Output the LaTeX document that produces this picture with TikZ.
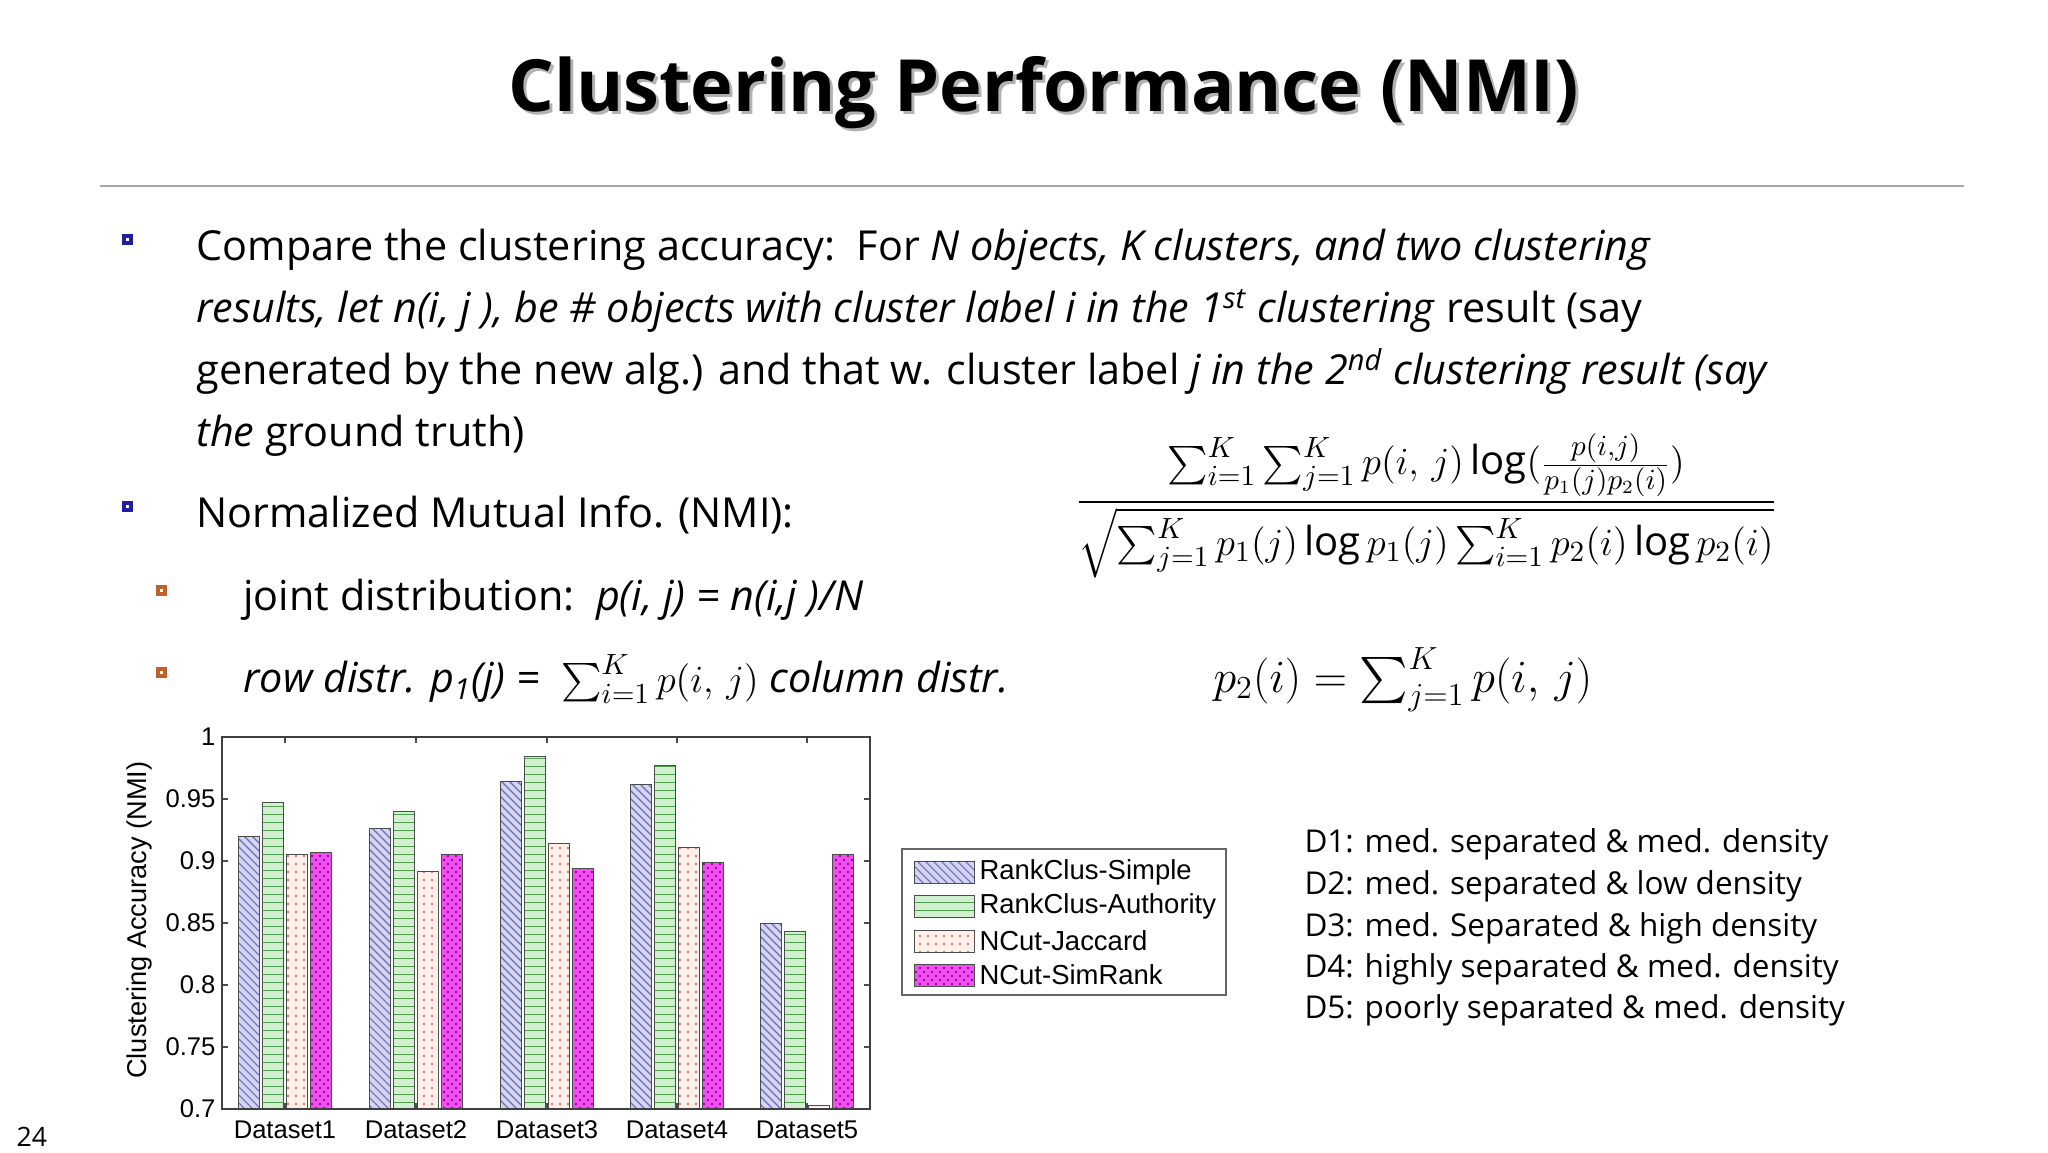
\documentclass[tikz,border=0pt]{standalone}
\usepackage{amsmath}
\usepackage{fontspec}
\setmainfont{Open Sans}
\newfontfamily\arialf{Liberation Sans}
\usetikzlibrary{patterns,calc}
\definecolor{bblue}{HTML}{1F1FA0}
\definecolor{borange}{HTML}{C0602A}
\definecolor{lav}{HTML}{D4D4F4}
\definecolor{lavl}{HTML}{7070B0}
\definecolor{lgreen}{HTML}{D0F0D0}
\definecolor{lgreenl}{HTML}{50A050}
\definecolor{peach}{HTML}{FFF0EA}
\definecolor{peachl}{HTML}{E07070}
\definecolor{mag}{HTML}{F050F0}
\definecolor{magl}{HTML}{A000A0}
\tikzset{
  txt/.style={anchor=base west,inner sep=0pt,font=\fontsize{15.5}{18}\selectfont},
  dtxt/.style={anchor=base west,inner sep=0pt,font=\fontsize{11.8}{14}\selectfont},
  ax/.style={font=\arialf\fontsize{9.6}{11}\selectfont,inner sep=0pt},
  bar/.style={draw=black!70,line width=0.3pt},
}
\newcommand{\bbox}[2]{%
 \fill[black!35] ($(#1)+(1.2,1.2)$) rectangle ++(8,8);
 \draw[#2,line width=1.6pt,fill=white] (#1) rectangle ++(7.2,7.2);}
\begin{document}
\begin{tikzpicture}[x=0.375pt,y=-0.375pt]
\useasboundingbox (0,0) rectangle (2048,1152);
% title
\node[font=\bfseries\fontsize{27}{30}\selectfont,text=black!30] at (1047,96) {Clustering Performance (NMI)};
\node[font=\bfseries\fontsize{27}{30}\selectfont] (title) at (1044,93) {Clustering Performance (NMI)};
\draw[black!35,line width=0.6pt] (100,186) -- (1964,186);
% bullets
\coordinate (b1) at (124,236); \bbox{b1}{bblue}
\coordinate (b2) at (124,503); \bbox{b2}{bblue}
\coordinate (b3) at (158,587); \bbox{b3}{borange}
\coordinate (b4) at (158,669); \bbox{b4}{borange}
\node[txt] (l1) at (196,260) {Compare the clustering accuracy:\ \ For \textit{N objects, K clusters, and two clustering}};
\node[txt] (l2) at (196,322) {\textit{results, let n(i, j ), be \# objects with cluster label i in the 1\textsuperscript{st} clustering} result (say};
\node[txt] (l3) at (196,384) {generated by the new alg.) and that w. cluster label \textit{j in the 2\textsuperscript{nd} clustering result (say}};
\node[txt] (l4) at (196,446) {\textit{the} ground truth)};
\node[txt] (l5) at (196,527) {Normalized Mutual Info. (NMI):};
\node[txt] (l6) at (243,610) {joint distribution:\ \ \textit{p(i, j) = n(i,j )/N}};
\node[txt] (l7) at (243,692) {\textit{row distr. p\textsubscript{1}(j) =}\ \ $\textstyle\sum_{i=1}^K p(i,\,j)$ \textit{column distr.}};
\node[anchor=base west,inner sep=0pt,font=\fontsize{17}{20}\selectfont] (p2) at (1213,692) {$p_2(i)=\sum\nolimits_{j=1}^K p(i,\,j)$};
% NMI
\node[font=\fontsize{15}{18}\selectfont,inner sep=0pt] (nmi) at (1426,506) {$\dfrac{\sum_{i=1}^K\sum_{j=1}^K p(i,\,j)\log(\frac{p(i,j)}{p_1(j)p_2(i)})}{\sqrt{\sum_{j=1}^K p_1(j)\log p_1(j)\sum_{i=1}^K p_2(i)\log p_2(i)}}$};
% chart
\def\ya{1109}\def\yb{737}
\foreach \v in {0.7,0.75,0.8,0.85,0.9,0.95,1}{
  \pgfmathsetmacro{\yy}{\ya-(\v-0.7)/0.3*(\ya-\yb)}
  \draw[black!70,line width=0.4pt] (222,\yy) -- ++(6,0) (870,\yy) -- ++(-6,0);
  \node[ax,anchor=east] at (216,\yy) {\v};
}
\foreach \c/\n in {285/1,416/2,547/3,677/4,807/5}{
  \draw[black!70,line width=0.4pt] (\c,\ya) -- ++(0,-6) (\c,\yb) -- ++(0,6);
  \node[ax,anchor=north] at (\c,1120) {Dataset\n};
}
\newcommand{\onebar}[5]{%
  \pgfmathsetmacro{\yy}{\ya-(#2-0.7)/0.3*(\ya-\yb)}
  \fill[#3] (#1-10.5,\ya) rectangle (#1+10.5,\yy);
  \fill[pattern=#4,pattern color=#5] (#1-10.5,\ya) rectangle (#1+10.5,\yy);
  \draw[bar] (#1-10.5,\ya) rectangle (#1+10.5,\yy);}
\foreach \c/\a/\b/\cc/\d in {285/0.92/0.947/0.905/0.907, 416/0.926/0.94/0.892/0.905, 547/0.964/0.984/0.914/0.894, 677/0.962/0.977/0.911/0.899, 807/0.85/0.843/0.703/0.905}{
  \onebar{\c-36}{\a}{lav}{north west lines}{lavl}
  \onebar{\c-12}{\b}{lgreen}{horizontal lines}{lgreenl}
  \onebar{\c+12}{\cc}{peach}{dots}{peachl}
  \onebar{\c+36}{\d}{mag}{crosshatch dots}{magl}
}
\draw[black!75,line width=0.5pt] (222,\yb) rectangle (870,\ya);
\node[ax,rotate=90,font=\arialf\fontsize{10.2}{12}\selectfont] (ylab) at (139,920) {Clustering Accuracy (NMI)};
% legend
\draw[black!60,line width=0.5pt] (902,849) rectangle (1226,995);
\newcommand{\legent}[5]{%
  \fill[#2] (914,#1-11) rectangle (974,#1+11);
  \fill[pattern=#3,pattern color=#4] (914,#1-11) rectangle (974,#1+11);
  \draw[bar] (914,#1-11) rectangle (974,#1+11);
  \node[ax,anchor=west,font=\arialf\fontsize{10.3}{12}\selectfont] at (979,#1) {#5};}
\legent{872}{lav}{north west lines}{lavl}{RankClus-Simple}
\legent{906}{lgreen}{horizontal lines}{lgreenl}{RankClus-Authority}
\legent{941}{peach}{dots}{peachl}{NCut-Jaccard}
\legent{975}{mag}{crosshatch dots}{magl}{NCut-SimRank}
% D list
\node[dtxt] (d1) at (1304,852) {D1: med. separated \& med. density};
\node[dtxt] (d2) at (1304,894) {D2: med. separated \& low density};
\node[dtxt] (d3) at (1304,936) {D3: med. Separated \& high density};
\node[dtxt] (d4) at (1304,977) {D4: highly separated \& med. density};
\node[dtxt] (d5) at (1304,1018) {D5: poorly separated \& med. density};
\node[anchor=base west,inner sep=0pt,font=\fontsize{10}{12}\selectfont] (pg) at (16,1146) {24};
\end{tikzpicture}
\end{document}
